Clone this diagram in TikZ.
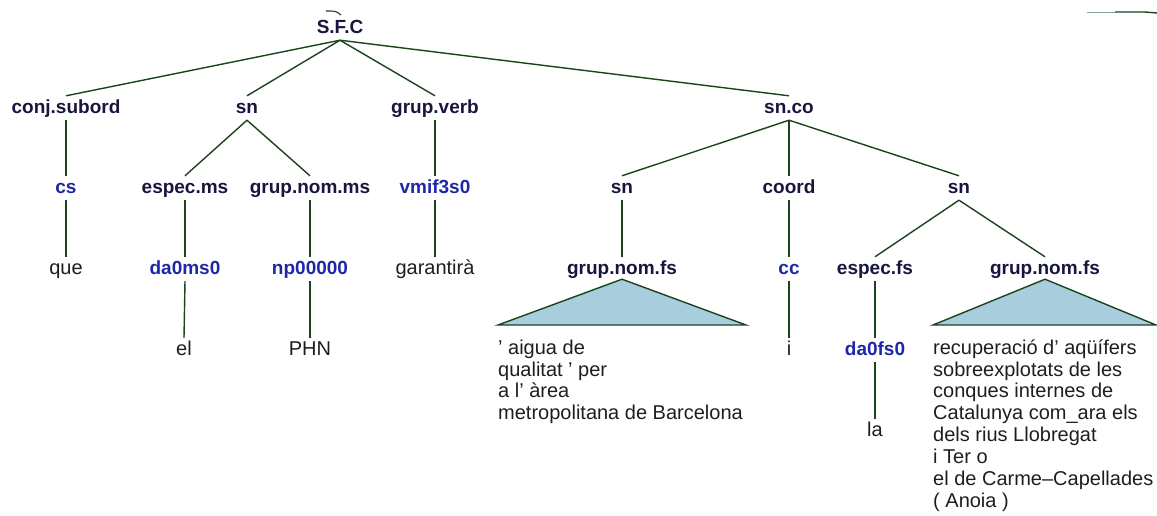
\documentclass[tikz,border=0pt]{standalone}
\usepackage{fontspec}
\setmainfont{Liberation Sans}
\usetikzlibrary{calc}
\definecolor{navy}{RGB}{22,22,62}
\definecolor{tagblue}{RGB}{28,40,165}
\definecolor{wordc}{RGB}{30,30,30}
\definecolor{linec}{RGB}{28,66,30}
\definecolor{trifill}{RGB}{168,206,222}
\begin{document}
\begin{tikzpicture}[x=1pt,y=-1pt,
  lab/.style={font=\fontsize{19}{22}\selectfont\bfseries, text=navy, anchor=base, inner xsep=0pt, inner ysep=3pt, text height=14pt, text depth=4pt},
  tag/.style={lab, text=tagblue},
  word/.style={font=\fontsize{20}{22}\selectfont, text=wordc, anchor=base, inner xsep=0pt, inner ysep=3pt, text height=14pt, text depth=4pt},
  line/.style={font=\fontsize{20}{22}\selectfont, text=wordc, anchor=base west, inner sep=0pt},
  edge/.style={draw=linec, line width=1.4pt},
  tri/.style={draw=linec, line width=1.4pt, fill=trifill, line join=miter}]
\useasboundingbox (0,0) rectangle (1157,515);

% level 0
\node[lab] (root) at (340,33) {S.F.C};
% level 1
\node[lab] (conj) at (66,113) {conj.subord};
\node[lab] (sna) at (247,113) {sn};
\node[lab] (gv) at (435,113) {grup.verb};
\node[lab] (snco) at (789,113) {sn.co};
% level 2
\node[tag] (cs) at (66,193) {cs};
\node[lab] (espms) at (185,193) {espec.ms};
\node[lab] (gnms) at (310,193) {grup.nom.ms};
\node[tag] (vmif) at (435,193) {vmif3s0};
\node[lab] (snb) at (622,193) {sn};
\node[lab] (coord) at (789,193) {coord};
\node[lab] (snc) at (959,193) {sn};
% level 3
\node[word] (que) at (66,274) {que};
\node[tag] (da0ms0) at (185,274) {da0ms0};
\node[tag] (np) at (310,274) {np00000};
\node[word] (gar) at (435,274) {garantirà};
\node[lab] (gnfsa) at (622,274) {grup.nom.fs};
\node[tag] (cc) at (789,274) {cc};
\node[lab] (espfs) at (875,274) {espec.fs};
\node[lab] (gnfsb) at (1045,274) {grup.nom.fs};
% level 4
\node[word] (el) at (184,355) {el};
\node[word] (phn) at (310,355) {PHN};
\node[word] (i) at (789,355) {i};
\node[tag] (da0fs0) at (875,355) {da0fs0};
% level 5
\node[word] (la) at (875,436) {la};

% edges
\foreach \c in {conj,sna,gv,snco} \draw[edge] (root.south) -- (\c.north);
\draw[edge] (conj.south) -- (cs.north);
\draw[edge] (cs.south) -- (que.north);
\draw[edge] (sna.south) -- (espms.north);
\draw[edge] (sna.south) -- (gnms.north);
\draw[edge] (espms.south) -- (da0ms0.north);
\draw[edge] (da0ms0.south) -- (el.north);
\draw[edge] (gnms.south) -- (np.north);
\draw[edge] (np.south) -- (phn.north);
\draw[edge] (gv.south) -- (vmif.north);
\draw[edge] (vmif.south) -- (gar.north);
\foreach \c in {snb,coord,snc} \draw[edge] (snco.south) -- (\c.north);
\draw[edge] (snb.south) -- (gnfsa.north);
\draw[edge] (coord.south) -- (cc.north);
\draw[edge] (cc.south) -- (i.north);
\draw[edge] (snc.south) -- (espfs.north);
\draw[edge] (snc.south) -- (gnfsb.north);
\draw[edge] (espfs.south) -- (da0fs0.north);
\draw[edge] (da0fs0.south) -- (la.north);

% triangles
\coordinate (ta) at ($(gnfsa.south)+(0,-2)$);
\coordinate (tal) at (498,325);
\coordinate (tar) at (746,325);
\draw[tri] (ta) -- (tar) -- (tal) -- cycle;
\coordinate (tb) at ($(gnfsb.south)+(0,-2)$);
\coordinate (tbl) at (933,325);
\coordinate (tbr) at (1156,325);
\draw[tri] (tb) -- (tbr) -- (tbl) -- cycle;

% leaf strings
\node[line] (la1) at (498,354) {’ aigua de};
\node[line] (la2) at (498,376) {qualitat ’ per};
\node[line] (la3) at (498,397) {a l’ àrea};
\node[line] (la4) at (498,419) {metropolitana de Barcelona};

\node[line] (lb1) at (933,354) {recuperació d’ aqüífers};
\node[line] (lb2) at (933,376) {sobreexplotats de les};
\node[line] (lb3) at (933,397) {conques internes de};
\node[line] (lb4) at (933,419) {Catalunya com\_ara els};
\node[line] (lb5) at (933,441) {dels rius Llobregat};
\node[line] (lb6) at (933,463) {i Ter o};
\node[line] (lb7) at (933,485) {el de Carme–Capellades};
\node[line] (lb8) at (933,507) {( Anoia )};

% stray marks
\coordinate (m1) at (1087,12);
\coordinate (m2) at (1145,12);
\coordinate (m3) at (1157,13);
\draw[draw=linec!50, line width=1pt] (m1) -- (1115,12);
\draw[edge] (1115,12) -- (m2) -- (m3);
\coordinate (a1) at (326,11);
\coordinate (a2) at (341,15);
\draw[draw=linec, line width=1.1pt] (a1) .. controls (336,11) .. (a2);
\end{tikzpicture}
\end{document}
